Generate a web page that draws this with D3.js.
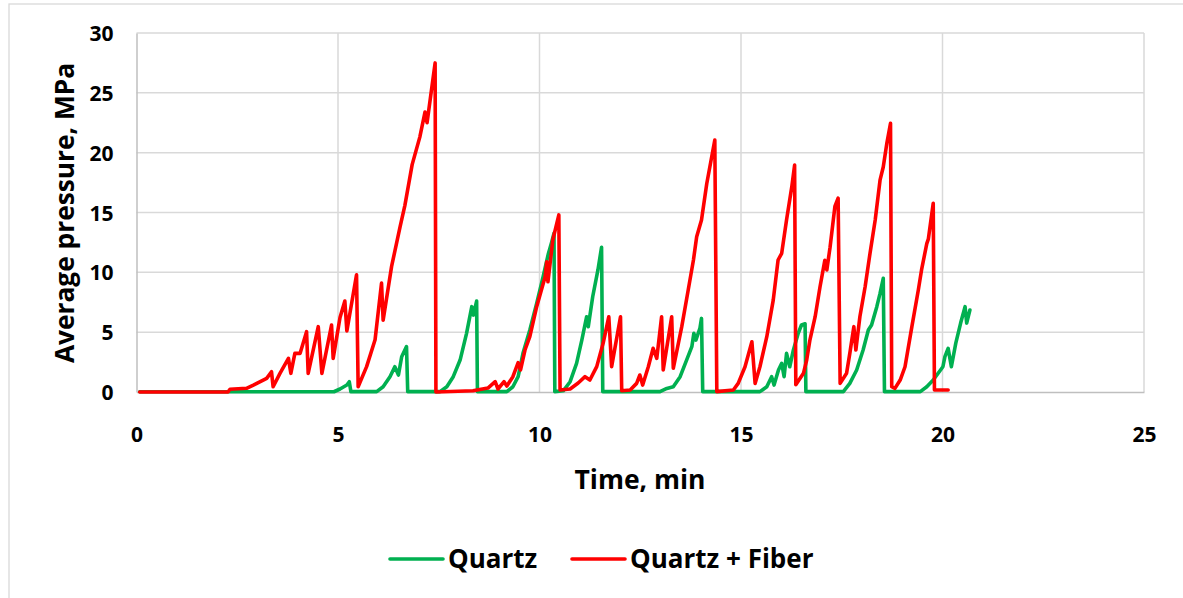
<!DOCTYPE html>
<html>
<head>
<meta charset="utf-8">
<script src="https://cdn.jsdelivr.net/npm/d3@7"></script>
<style>
  html, body { margin: 0; padding: 0; background: #fff; }
  svg { display: block; }
  text { font-family: "Open Sans", "DejaVu Sans", sans-serif; font-weight: 700; fill: #000; }
</style>
</head>
<body>
<svg id="chart" width="1183" height="598"></svg>
<script>
// ---- data (time in min, pressure in MPa) ----
const seriesNames = ["Quartz", "Quartz + Fiber"];
const seriesColors = ["#00B050", "#FF0000"];
const xTicks = [0, 5, 10, 15, 20, 25];
const yTicks = [0, 5, 10, 15, 20, 25, 30];

const quartz = [
  [0.08,0.02],[4.90,0.02],[5.05,0.25],[5.22,0.58],[5.28,0.86],[5.32,0.03],[5.96,0.03],[6.12,0.44],
  [6.29,1.28],[6.41,2.11],[6.50,1.42],[6.58,2.95],[6.70,3.79],[6.73,0.03],[7.53,0.03],[7.70,0.44],
  [7.86,1.28],[8.03,2.67],[8.19,4.9],[8.32,7.13],[8.36,6.43],[8.44,7.6],[8.46,0.03],[9.19,0.03],
  [9.34,0.44],[9.47,1.28],[9.59,3.23],[9.76,5.18],[9.93,7.4],[10.09,9.63],[10.22,11.56],[10.30,12.5],
  [10.36,13.26],[10.38,0.03],[10.59,0.1],[10.76,0.86],[10.92,2.39],[11.05,4.34],[11.17,6.29],
  [11.21,5.46],[11.32,7.96],[11.45,10.2],[11.54,12.1],[11.57,0.03],[12.99,0.03],[13.16,0.3],
  [13.32,0.44],[13.49,1.28],[13.65,2.67],[13.78,3.79],[13.83,4.9],[13.88,4.34],[13.98,5.31],
  [14.02,6.15],[14.05,0.03],[15.47,0.03],[15.64,0.44],[15.76,1.28],[15.82,0.58],[15.93,1.84],
  [16.01,2.39],[16.07,1.28],[16.13,3.23],[16.21,2.11],[16.30,3.51],[16.42,4.9],[16.50,5.6],
  [16.59,5.7],[16.61,0.03],[17.54,0.03],[17.70,0.72],[17.87,1.84],[18.03,3.51],[18.16,5.18],
  [18.24,5.6],[18.37,7.13],[18.45,8.24],[18.53,9.5],[18.56,0.03],[19.45,0.03],[19.61,0.44],
  [19.77,1.0],[20.01,2.11],[20.06,2.95],[20.14,3.65],[20.22,2.11],[20.33,4.09],[20.45,5.76],
  [20.56,7.13],[20.60,5.76],[20.68,6.85]
];

const quartzFiber = [
  [0.08,0],[2.27,0],[2.32,0.23],[2.73,0.31],[2.90,0.58],[3.23,1.14],[3.35,1.69],[3.39,0.44],[3.56,1.56],
  [3.77,2.81],[3.83,1.56],[3.93,3.23],[4.06,3.23],[4.22,5.04],[4.26,1.56],[4.51,5.46],[4.60,1.56],
  [4.84,5.6],[4.88,2.81],[5.05,6.23],[5.17,7.6],[5.22,5.1],[5.46,9.8],[5.50,0.44],[5.71,2.12],
  [5.92,4.37],[6.08,9.1],[6.12,6.0],[6.33,10.5],[6.54,13.8],[6.66,15.6],[6.84,19.0],[7.03,21.3],
  [7.16,23.4],[7.21,22.5],[7.41,27.5],[7.43,0],[8.35,0.1],[8.72,0.33],[8.90,0.86],[8.97,0.25],
  [9.12,0.86],[9.19,0.5],[9.34,1.28],[9.47,2.45],[9.53,1.84],[9.64,3.51],[9.76,4.62],[9.93,7.13],
  [10.14,9.63],[10.18,10.88],[10.21,9.21],[10.33,12.7],[10.48,14.8],[10.51,0.17],[10.76,0.25],
  [10.96,0.75],[11.13,1.28],[11.25,1.0],[11.42,2.12],[11.58,4.09],[11.72,6.29],[11.79,2.12],
  [12.01,6.29],[12.04,0.1],[12.25,0.17],[12.41,0.72],[12.49,1.42],[12.56,0.58],[12.70,2.11],
  [12.82,3.65],[12.91,2.81],[13.03,6.29],[13.07,1.84],[13.28,6.29],[13.32,1.98],[13.53,5.46],
  [13.69,8.52],[13.82,11.03],[13.90,12.97],[14.02,14.37],[14.15,17.4],[14.27,19.6],[14.35,21.05],
  [14.40,0.03],[14.81,0.17],[14.93,0.72],[15.10,2.11],[15.27,4.2],[15.35,0.72],[15.47,2.11],
  [15.64,4.62],[15.80,7.68],[15.92,11.03],[16.01,11.59],[16.13,14.37],[16.26,17.14],[16.33,18.96],
  [16.36,0.6],[16.55,1.56],[16.63,2.67],[16.71,4.34],[16.84,6.29],[16.96,8.77],[17.08,11.0],
  [17.13,10.2],[17.21,12.1],[17.33,15.5],[17.41,16.2],[17.46,0.72],[17.62,1.56],[17.70,3.23],
  [17.80,5.46],[17.85,3.51],[17.95,6.29],[18.08,8.8],[18.20,11.56],[18.33,14.37],[18.45,17.7],
  [18.53,18.8],[18.62,20.8],[18.71,22.45],[18.74,0.44],[18.82,0.3],[18.95,1.0],[19.07,2.11],
  [19.24,5.46],[19.40,8.52],[19.48,10.2],[19.61,12.4],[19.65,12.8],[19.77,15.77],[19.80,0.17],
  [20.14,0.17]
];

const seriesData = [quartz, quartzFiber];

// ---- layout ----
const svg = d3.select("#chart");
const plot = { left: 136.5, right: 1144, top: 33, bottom: 392 };

// chart border (only top/left visible in reference)
svg.append("rect").attr("x", 9).attr("y", 4).attr("width", 1300).attr("height", 800)
  .attr("fill", "none").attr("stroke", "#d9d9d9").attr("stroke-width", 1.3);

const x = d3.scaleLinear().domain([0, 25]).range([plot.left, plot.right]);
const y = d3.scaleLinear().domain([0, 30]).range([plot.bottom, plot.top]);

// gridlines
svg.append("g").selectAll("line.h").data(yTicks.filter(d => d > 0)).join("line")
  .attr("x1", plot.left).attr("x2", plot.right)
  .attr("y1", d => y(d)).attr("y2", d => y(d))
  .attr("stroke", "#d9d9d9").attr("stroke-width", 1.5);
svg.append("g").selectAll("line.v").data(xTicks.filter(d => d > 0)).join("line")
  .attr("x1", d => x(d)).attr("x2", d => x(d))
  .attr("y1", plot.top).attr("y2", plot.bottom)
  .attr("stroke", "#d9d9d9").attr("stroke-width", 1.5);

// axes
const xAxis = svg.append("g").attr("transform", `translate(0,${plot.bottom})`)
  .call(d3.axisBottom(x).tickValues(xTicks).tickSize(0).tickPadding(0).tickFormat(d3.format("d")));
xAxis.select(".domain").attr("stroke", "#bfbfbf").attr("stroke-width", 1.5);
xAxis.selectAll("text").attr("dy", null).attr("y", 50).style("font-size", "21px")
  .style("font-family", "'Open Sans', sans-serif").style("font-weight", 700);

const yAxis = svg.append("g").attr("transform", `translate(${plot.left},0)`)
  .call(d3.axisLeft(y).tickValues(yTicks).tickSize(0).tickPadding(23).tickFormat(d3.format("d")));
yAxis.select(".domain").attr("stroke", "#bfbfbf").attr("stroke-width", 1.5);
yAxis.selectAll("text").attr("dy", "0.36em").style("font-size", "21px")
  .style("font-family", "'Open Sans', sans-serif").style("font-weight", 700);

// axis titles
svg.append("text").attr("x", 640).attr("y", 489).attr("text-anchor", "middle")
  .style("font-size", "26.5px").text("Time, min");
svg.append("text").attr("transform", "translate(74,213) rotate(-90)").attr("text-anchor", "middle")
  .style("font-size", "26.3px").text("Average pressure, MPa");

// lines
const line = d3.line().x(d => x(d[0])).y(d => y(d[1]));
seriesData.forEach((data, i) => {
  svg.append("path").datum(data)
    .attr("d", line)
    .attr("fill", "none")
    .attr("stroke", seriesColors[i])
    .attr("stroke-width", 3.6)
    .attr("stroke-linejoin", "round")
    .attr("stroke-linecap", "round");
});

// legend
const legendItems = [{ x1: 390, tx: 448 }, { x1: 572, tx: 630 }];
seriesNames.forEach((name, i) => {
  const it = legendItems[i];
  svg.append("line").attr("x1", it.x1).attr("x2", it.x1 + 53).attr("y1", 559).attr("y2", 559)
    .attr("stroke", seriesColors[i]).attr("stroke-width", 3.6).attr("stroke-linecap", "round");
  svg.append("text").attr("x", it.tx).attr("y", 568).style("font-size", "26px").text(name);
});
</script>
</body>
</html>
